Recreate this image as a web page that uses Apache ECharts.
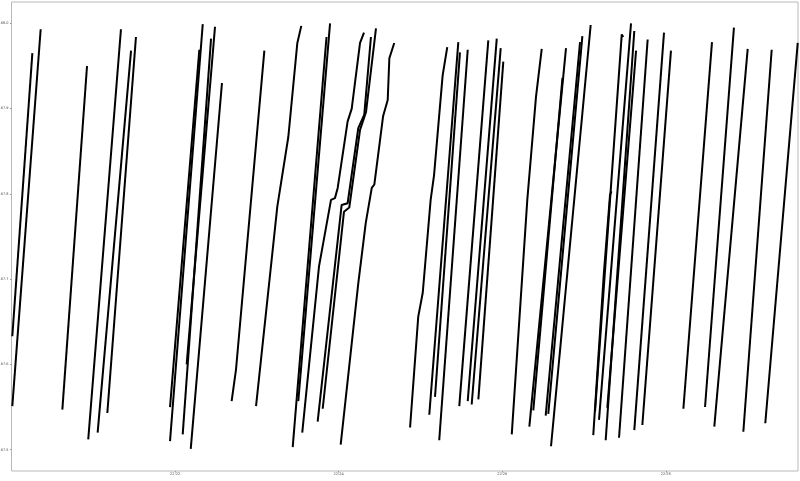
<!DOCTYPE html>
<html>
<head>
<meta charset="utf-8">
<script src="https://cdn.jsdelivr.net/npm/echarts@6/dist/echarts.min.js"></script>
<style>
html,body{margin:0;padding:0;background:#fff;}
#chart{width:800px;height:481px;}
</style>
</head>
<body>
<div id="chart"></div>
<script>
// x values: seconds after 22:20:00 (captureDateTimestamp); y values: price
const segTimes = [
  [0.6, 15.3],
  [0.6, 21.4],
  [37.3, 55.4],
  [56.3, 80.3],
  [63.2, 87.7],
  [70.3, 91.3],
  [116.3, 137.8],
  [116.3, 140.3],
  [125.6, 146.4],
  [128.5, 149.3],
  [131.5, 154.4],
  [161.5, 164.7, 185.5],
  [179.4, 195.0, 203.1, 209.7, 212.6],
  [206.3, 231.1],
  [210.4, 233.7],
  [213.3, 225.6, 234.4, 237.3, 239.3, 246.6, 249.6, 255.7, 258.6],
  [224.6, 242.2, 246.6, 254.4, 258.8, 263.7],
  [228.3, 243.9, 247.8, 255.7, 260.1, 267.4],
  [241.5, 254.4, 259.9, 264.3, 266.2, 272.6, 276.0, 277.2, 280.8],
  [292.4, 298.4, 301.7, 307.5, 310.0, 316.3, 319.7],
  [306.5, 327.8],
  [310.7, 329.0],
  [313.8, 334.7],
  [328.5, 349.8],
  [334.7, 356.0],
  [337.6, 358.9],
  [342.5, 360.8],
  [367.0, 378.4, 384.8, 389.0],
  [379.9, 406.8],
  [382.8, 404.2],
  [391.9, 417.1],
  [393.8, 418.8],
  [395.8, 424.9],
  [426.8, 434.5, 439.1, 440.2],
  [428.1, 447.7, 448.8],
  [431.0, 454.5],
  [435.9, 456.9],
  [437.1, 458.2],
  [445.7, 466.7],
  [456.9, 478.7],
  [462.8, 483.8],
  [492.9, 513.9],
  [508.8, 530.0],
  [515.6, 540.1],
  [536.9, 557.7],
  [553.0, 576.8]
];
const segPrices = [
  [167.633, 167.965],
  [167.551, 167.993],
  [167.547, 167.950],
  [167.512, 167.993],
  [167.520, 167.968],
  [167.543, 167.984],
  [167.550, 167.969],
  [167.510, 167.999],
  [167.518, 167.982],
  [167.600, 167.996],
  [167.501, 167.930],
  [167.557, 167.594, 167.968],
  [167.551, 167.785, 167.867, 167.977, 167.997],
  [167.503, 167.984],
  [167.557, 168.000],
  [167.520, 167.715, 167.793, 167.795, 167.807, 167.885, 167.900, 167.977, 167.989],
  [167.533, 167.787, 167.789, 167.877, 167.893, 167.984],
  [167.548, 167.779, 167.784, 167.875, 167.896, 167.994],
  [167.506, 167.695, 167.766, 167.807, 167.811, 167.891, 167.910, 167.959, 167.977],
  [167.526, 167.656, 167.684, 167.793, 167.822, 167.939, 167.972],
  [167.541, 167.978],
  [167.562, 167.966],
  [167.511, 167.969],
  [167.551, 167.980],
  [167.557, 167.982],
  [167.553, 167.971],
  [167.559, 167.955],
  [167.518, 167.793, 167.914, 167.970],
  [167.527, 167.971],
  [167.546, 167.936],
  [167.540, 167.978],
  [167.542, 167.985],
  [167.504, 167.998],
  [167.517, 167.705, 167.799, 167.803],
  [167.545, 167.987, 167.984],
  [167.535, 168.000],
  [167.511, 167.991],
  [167.549, 167.968],
  [167.514, 167.981],
  [167.523, 167.989],
  [167.529, 167.968],
  [167.548, 167.978],
  [167.550, 167.995],
  [167.527, 167.970],
  [167.521, 167.969],
  [167.531, 167.977]
];
const xTickLabels = ['22:20', '22:22', '22:24', '22:26', '22:28'];
const xRange = [0, 577];
const yRange = [167.475, 168.025];
const axisName = 'captureDateTimestamp';

const series = segTimes.map(function (ts, i) {
  return {
    type: 'line',
    data: ts.map(function (t, j) { return [t, segPrices[i][j]]; }),
    showSymbol: false,
    symbol: 'none',
    silent: true,
    lineStyle: { color: '#000', width: 2 },
    itemStyle: { color: '#000' }
  };
});

const chart = echarts.init(document.getElementById('chart'));
chart.setOption({
  animation: false,
  backgroundColor: '#fff',
  grid: {
    left: 11.5, right: 2, top: 2, bottom: 10,
    containLabel: false, outerBoundsMode: 'none',
    show: true, borderColor: '#b8b8b8', borderWidth: 1, backgroundColor: 'transparent'
  },
  xAxis: {
    type: 'value',
    min: xRange[0], max: xRange[1], interval: 120,
    name: axisName, nameLocation: 'middle', nameGap: 5,
    nameTextStyle: { fontSize: 3.5, color: '#333', fontFamily: 'DejaVu Sans' },
    axisLine: { show: false },
    axisTick: { show: true, length: 1.5, lineStyle: { color: '#999' } },
    splitLine: { show: false },
    axisLabel: {
      showMinLabel: false, showMaxLabel: false,
      fontSize: 3.5, color: '#444', margin: 1, fontFamily: 'DejaVu Sans',
      formatter: function (v) {
        const idx = Math.round(v / 120);
        return (Math.abs(v - idx * 120) < 0.01 && xTickLabels[idx]) ? xTickLabels[idx] : '';
      }
    }
  },
  yAxis: {
    type: 'value',
    min: yRange[0], max: yRange[1], minInterval: 0.1, maxInterval: 0.1,
    axisLine: { show: false },
    axisTick: { show: true, length: 1.5, lineStyle: { color: '#999' } },
    splitLine: { show: false },
    axisLabel: {
      showMinLabel: false, showMaxLabel: false,
      fontSize: 3.5, color: '#444', margin: 3, fontFamily: 'DejaVu Sans',
      formatter: function (v) { return v.toFixed(1); }
    }
  },
  series: series
});
</script>
</body>
</html>
